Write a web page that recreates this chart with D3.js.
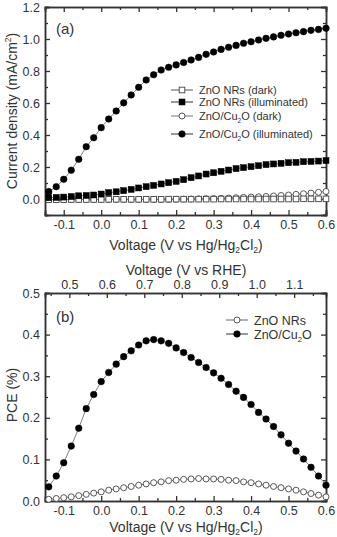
<!DOCTYPE html>
<html><head><meta charset="utf-8">
<script src="https://cdn.jsdelivr.net/npm/d3@7"></script>
<style>
body{margin:0;background:#fff;}
svg{display:block;font-family:"Liberation Sans",Arial,sans-serif;}
</style></head>
<body><svg id="c" width="337" height="537"></svg>
<script>
const voltage = [-0.14,-0.12,-0.10,-0.08,-0.06,-0.04,-0.02,0.00,0.02,0.04,0.06,0.08,0.10,0.12,0.14,0.16,0.18,0.20,0.22,0.24,0.26,0.28,0.30,0.32,0.34,0.36,0.38,0.40,0.42,0.44,0.46,0.48,0.50,0.52,0.54,0.56,0.58,0.60];
const nrsDark = [-0.004,-0.004,-0.004,-0.003,-0.003,-0.003,-0.003,-0.003,-0.002,-0.002,-0.002,-0.002,-0.002,-0.002,-0.002,-0.002,-0.001,-0.001,-0.001,-0.001,-0.001,-0.001,-0.001,0,0,0,0,0,0,0,0,0,0,0,0.001,0.001,0.001,0.001];
const nrsIllum = [0.008,0.01,0.012,0.015,0.02,0.022,0.025,0.031,0.04,0.045,0.052,0.06,0.069,0.077,0.085,0.094,0.102,0.11,0.121,0.133,0.144,0.156,0.164,0.173,0.181,0.19,0.196,0.202,0.208,0.215,0.219,0.223,0.227,0.229,0.233,0.235,0.237,0.24];
const cu2oDark = [-0.003,-0.003,-0.003,-0.003,-0.003,-0.003,-0.003,-0.003,-0.003,-0.003,-0.003,-0.003,-0.003,-0.003,-0.003,-0.003,-0.003,-0.002,-0.001,0,0.001,0.002,0.003,0.004,0.006,0.008,0.010,0.012,0.014,0.016,0.019,0.022,0.025,0.029,0.033,0.037,0.042,0.047];
const cu2oIllum = [0.046,0.077,0.123,0.18,0.248,0.327,0.383,0.446,0.50,0.55,0.601,0.65,0.698,0.744,0.777,0.806,0.823,0.838,0.853,0.869,0.885,0.904,0.919,0.935,0.948,0.96,0.973,0.983,0.994,1.004,1.013,1.023,1.031,1.039,1.046,1.054,1.06,1.067];
const pceNrs = [0.004,0.006,0.008,0.01,0.013,0.016,0.019,0.022,0.026,0.029,0.032,0.035,0.038,0.041,0.044,0.046,0.049,0.05,0.052,0.053,0.054,0.053,0.053,0.052,0.05,0.049,0.046,0.044,0.041,0.038,0.035,0.032,0.029,0.026,0.022,0.018,0.014,0.01];
const pceCu2o = [0.034,0.06,0.092,0.132,0.175,0.222,0.256,0.287,0.309,0.329,0.347,0.361,0.375,0.385,0.388,0.385,0.379,0.368,0.357,0.345,0.333,0.321,0.308,0.295,0.28,0.264,0.249,0.232,0.213,0.197,0.179,0.159,0.139,0.12,0.101,0.081,0.06,0.038];

const xTicks = [-0.1,0.0,0.1,0.2,0.3,0.4,0.5,0.6];
const xMinor = [-0.15,-0.05,0.05,0.15,0.25,0.35,0.45,0.55];
const jTicks = [0.0,0.2,0.4,0.6,0.8,1.0,1.2];
const jMinor = [-0.1,0.1,0.3,0.5,0.7,0.9,1.1];
const pceTicks = [0.0,0.1,0.2,0.3,0.4,0.5];
const pceMinor = [0.05,0.15,0.25,0.35,0.45];
const rheTicks = [0.5,0.6,0.7,0.8,0.9,1.0,1.1];
const rheMinor = [0.45,0.55,0.65,0.75,0.85,0.95,1.05,1.15];
const rheOffset = 0.585;

const svg = d3.select("#c");
const L = 45, R = 326;
const axisColor = "#333";
const lineColor = "#808080";
const fmt = d => d.toFixed(1);

const x = d3.scaleLinear().domain([-0.15, 0.6]).range([L, R]);
const xr = d3.scaleLinear().domain([-0.15 + rheOffset, 0.6 + rheOffset]).range([L, R]);
const ya = d3.scaleLinear().domain([-0.1, 1.2]).range([215, 7]);
const yb = d3.scaleLinear().domain([0, 0.5]).range([501, 293]);

function styleAxis(g){
  g.select(".domain").attr("stroke", axisColor).attr("stroke-width", 1.5);
  g.selectAll(".tick line").attr("stroke", axisColor).attr("stroke-width", 1.3);
  g.selectAll("text").attr("fill", "#333").attr("font-size", 12.5);
}

function frame(y, yT, yM, xTop, xTopT, xTopM, topLabels){
  const [y0, y1] = y.range();
  // bottom
  svg.append("g").attr("transform", `translate(0,${y0})`)
    .call(d3.axisBottom(x).tickValues(xTicks).tickFormat(fmt).tickSize(-5).tickPadding(5)).call(styleAxis);
  svg.append("g").attr("transform", `translate(0,${y0})`)
    .call(d3.axisBottom(x).tickValues(xMinor).tickFormat("").tickSize(-3)).call(styleAxis);
  // top
  svg.append("g").attr("transform", `translate(0,${y1})`)
    .call(d3.axisTop(xTop).tickValues(xTopT).tickFormat(topLabels ? fmt : "").tickSize(-5).tickPadding(4)).call(styleAxis);
  svg.append("g").attr("transform", `translate(0,${y1})`)
    .call(d3.axisTop(xTop).tickValues(xTopM).tickFormat("").tickSize(-3)).call(styleAxis);
  // left
  svg.append("g").attr("transform", `translate(${L},0)`)
    .call(d3.axisLeft(y).tickValues(yT).tickFormat(fmt).tickSize(-5).tickPadding(5)).call(styleAxis);
  svg.append("g").attr("transform", `translate(${L},0)`)
    .call(d3.axisLeft(y).tickValues(yM).tickFormat("").tickSize(-3)).call(styleAxis);
  // right
  svg.append("g").attr("transform", `translate(${R},0)`)
    .call(d3.axisRight(y).tickValues(yT).tickFormat("").tickSize(-5)).call(styleAxis);
  svg.append("g").attr("transform", `translate(${R},0)`)
    .call(d3.axisRight(y).tickValues(yM).tickFormat("").tickSize(-3)).call(styleAxis);
}

frame(ya, jTicks, jMinor, x, xTicks, xMinor, false);
frame(yb, pceTicks, pceMinor, xr, rheTicks, rheMinor, true);

function drawSeries(y, vals, shape, filled){
  const data = voltage.map((v, i) => [v, vals[i]]);
  svg.append("path").datum(data)
    .attr("fill", "none").attr("stroke", lineColor).attr("stroke-width", 1)
    .attr("d", d3.line().x(d => x(d[0])).y(d => y(d[1])));
  const g = svg.append("g");
  data.forEach(d => marker(g, x(d[0]), y(d[1]), shape, filled));
}
function marker(g, cx, cy, shape, filled){
  if (shape === "circle") {
    g.append("circle").attr("cx", cx).attr("cy", cy).attr("r", filled ? 3.3 : 3)
      .attr("fill", filled ? "#000" : "#fff").attr("stroke", filled ? "#000" : "#444").attr("stroke-width", filled ? 0.5 : 0.9);
  } else {
    const s = filled ? 6 : 5.6;
    g.append("rect").attr("x", cx - s/2).attr("y", cy - s/2).attr("width", s).attr("height", s)
      .attr("fill", filled ? "#000" : "#fff").attr("stroke", filled ? "#000" : "#444").attr("stroke-width", filled ? 0.5 : 0.9);
  }
}

// panel (a)
drawSeries(ya, cu2oDark, "circle", false);
drawSeries(ya, nrsDark, "square", false);
drawSeries(ya, nrsIllum, "square", true);
drawSeries(ya, cu2oIllum, "circle", true);
// panel (b)
drawSeries(yb, pceNrs, "circle", false);
drawSeries(yb, pceCu2o, "circle", true);

// texts with subscripts
function richText(sel, parts, sz){
  parts.forEach(p => {
    if (typeof p === "string") sel.append("tspan").text(p);
    else sel.append("tspan").attr("font-size", sz * 0.6).attr("dy", p.dy).text(p.t);
  });
}

// panel labels
svg.append("text").attr("x", 56).attr("y", 34).attr("font-size", 15).attr("fill", "#333").text("(a)");
svg.append("text").attr("x", 56).attr("y", 322).attr("font-size", 15).attr("fill", "#333").text("(b)");

// axis titles
const t1 = svg.append("text").attr("transform", "translate(17,111) rotate(-90)").attr("text-anchor", "middle")
  .attr("font-size", 14).attr("fill", "#333");
richText(t1, ["Current density (mA/cm", {t: "2", dy: -6}, {t: ")", dy: 6}], 14);
t1.selectAll("tspan").filter((d, i) => i === 2).attr("font-size", 14);

function voltTitle(yy){
  const t = svg.append("text").attr("x", 186).attr("y", yy).attr("text-anchor", "middle").attr("font-size", 14).attr("fill", "#333");
  t.append("tspan").text("Voltage (V vs Hg/Hg");
  t.append("tspan").attr("font-size", 8.5).attr("dy", 3).text("2");
  t.append("tspan").attr("dy", -3).text("Cl");
  t.append("tspan").attr("font-size", 8.5).attr("dy", 3).text("2");
  t.append("tspan").attr("dy", -3).text(")");
}
voltTitle(250);
voltTitle(532);
svg.append("text").attr("x", 186).attr("y", 275).attr("text-anchor", "middle").attr("font-size", 14).attr("fill", "#333").text("Voltage (V vs RHE)");
svg.append("text").attr("transform", "translate(17,395) rotate(-90)").attr("text-anchor", "middle")
  .attr("font-size", 14).attr("fill", "#333").text("PCE (%)");

// legends
function legendRow(lx, ly, shape, filled, parts, fs, lineStroke){
  svg.append("line").attr("x1", lx).attr("x2", lx + 22).attr("y1", ly).attr("y2", ly)
    .attr("stroke", lineStroke).attr("stroke-width", 1);
  marker(svg, lx + 11, ly, shape, filled);
  const t = svg.append("text").attr("x", lx + 28).attr("y", ly + fs * 0.36).attr("font-size", fs).attr("fill", "#333");
  parts.forEach(p => {
    if (typeof p === "string") t.append("tspan").text(p);
    else t.append("tspan").attr("font-size", fs * 0.6).attr("dy", p.dy).text(p.t);
  });
}
legendRow(171, 90, "square", false, ["ZnO NRs (dark)"], 11, "#555");
legendRow(171, 102, "square", true, ["ZnO NRs (illuminated)"], 11, "#333");
legendRow(171, 116, "circle", false, ["ZnO/Cu", {t: "2", dy: 3}, {t: "O (dark)", dy: -3}], 11, "#6a6f9a");
legendRow(171, 134, "circle", true, ["ZnO/Cu", {t: "2", dy: 3}, {t: "O (illuminated)", dy: -3}], 11, "#333");
svg.selectAll("tspan").filter(function(){ return d3.select(this).text().startsWith("O ("); }).attr("font-size", 11);

legendRow(226, 320, "circle", false, ["ZnO NRs"], 12.5, "#666");
legendRow(226, 334, "circle", true, ["ZnO/Cu", {t: "2", dy: 3}, {t: "O", dy: -3}], 12.5, "#333");
svg.selectAll("tspan").filter(function(){ return d3.select(this).text() === "O"; }).attr("font-size", 12.5);
</script></body></html>
